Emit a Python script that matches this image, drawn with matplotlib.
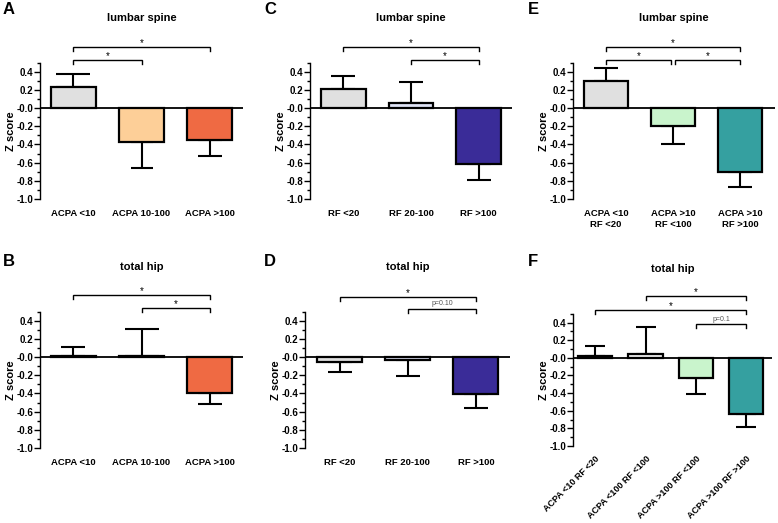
import numpy as np
import matplotlib
matplotlib.use("Agg")
from matplotlib import pyplot as plt
from matplotlib.ticker import MultipleLocator, FixedLocator, FixedFormatter

plt.rcParams['font.family'] = ['Liberation Sans', 'DejaVu Sans']
plt.rcParams['font.weight'] = 'bold'

W, H = 778, 523

# ---- data (Z score mean and one-sided error) ----
acpa_labels = ["ACPA <10", "ACPA 10-100", "ACPA >100"]
rf_labels = ["RF <20", "RF 20-100", "RF >100"]
combo_labels = ["ACPA <10\nRF <20", "ACPA >10\nRF <100", "ACPA >10\nRF >100"]
combo4_labels = ["ACPA <10 RF <20", "ACPA <100 RF <100",
                 "ACPA >100 RF <100", "ACPA >100 RF >100"]

lumbar_acpa = [0.23, -0.37, -0.35]
lumbar_acpa_err = [0.15, 0.29, 0.18]
hip_acpa = [0.01, 0.01, -0.39]
hip_acpa_err = [0.10, 0.30, 0.13]

lumbar_rf = [0.21, 0.06, -0.61]
lumbar_rf_err = [0.14, 0.23, 0.18]
hip_rf = [-0.055, -0.03, -0.41]
hip_rf_err = [0.11, 0.18, 0.15]

lumbar_combo = [0.30, -0.20, -0.70]
lumbar_combo_err = [0.14, 0.20, 0.17]
hip_combo = [0.015, 0.04, -0.23, -0.64]
hip_combo_err = [0.115, 0.31, 0.18, 0.15]

ytick_vals = [-1.0, -0.8, -0.6, -0.4, -0.2, 0.0, 0.2, 0.4]
ytick_text = ["-1.0", "-0.8", "-0.6", "-0.4", "-0.2", "-0.0", "0.2", "0.4"]

gray = '#e0e0e0'
orange = '#fdcf98'
red = '#ef6a43'
lblue = '#dfe3f6'
dblue = '#3a2c98'
lgreen = '#c9f4cc'
teal = '#35a0a0'


fig = plt.figure(figsize=(W / 100, H / 100), dpi=100)


def make_axes(left, top, right, bottom):
    return fig.add_axes([left / W, 1 - bottom / H, (right - left) / W, (bottom - top) / H])


def bracket(ax, x0, x1, y, text, small=False):
    d = 0.045
    ax.plot([x0, x0, x1, x1], [y - d, y, y, y - d], color='black', lw=1.0,
            clip_on=False, solid_joinstyle='miter')
    if small:
        ax.text((x0 + x1) / 2, y + 0.02, text, ha='center', va='bottom',
                fontsize=5, color='#555555', fontweight='normal')
    else:
        ax.text((x0 + x1) / 2, y - 0.01, text, ha='center', va='bottom',
                fontsize=7, fontweight='normal')


def panel(rect, xlim, labels, means, errs, colors, title, caps,
          rotate=False, width=0.66):
    ax = make_axes(*rect)
    x = np.arange(len(means))
    ax.bar(x, means, width=width, color=colors, edgecolor='black',
           linewidth=1.6, zorder=2)
    for xi, m, e, c in zip(x, means, errs, caps):
        lo = [0] if m >= 0 else [e]
        hi = [e] if m >= 0 else [0]
        ax.errorbar([xi], [m], yerr=[lo, hi], fmt='none', ecolor='black',
                    elinewidth=1.5, capsize=c, capthick=1.5, zorder=1)
    ax.axhline(0, color='black', lw=1.3, zorder=3)
    ax.set_xlim(*xlim)
    ax.set_ylim(-1.0, 0.5)
    for s in ['top', 'right', 'bottom']:
        ax.spines[s].set_visible(False)
    ax.spines['left'].set_linewidth(1.0)
    ax.yaxis.set_major_locator(FixedLocator(ytick_vals))
    ax.yaxis.set_major_formatter(FixedFormatter(ytick_text))
    ax.yaxis.set_minor_locator(MultipleLocator(0.1))
    ax.tick_params(axis='y', which='major', length=4, width=1.0, labelsize=7, pad=1)
    ax.tick_params(axis='y', which='minor', length=2.5, width=1.0)
    ax.set_xticks(x)
    if rotate:
        ax.set_xticklabels(labels, rotation=45, ha='right', rotation_mode='anchor',
                           fontsize=6.5, fontweight='bold')
        ax.tick_params(axis='x', length=0, pad=6)
    else:
        ax.set_xticklabels(labels, fontsize=6.8, fontweight='bold', linespacing=1.35)
        ax.tick_params(axis='x', length=0, pad=7)
    ax.set_ylabel('Z score', fontsize=8, fontweight='bold')
    ax.yaxis.set_label_coords(-24 / (rect[2] - rect[0]), 0.5)
    ax.text(0.5, 1 + 45 / (rect[3] - rect[1]), title, transform=ax.transAxes,
            ha='center', va='center', fontsize=8, fontweight='bold')
    return ax


def letter(x, y, s):
    fig.text(x / W, 1 - y / H, s, ha='left', va='center', fontsize=12, fontweight='bold')


# A
ax = panel((40, 62.6, 243, 199), (-0.49, 2.49), acpa_labels, lumbar_acpa, lumbar_acpa_err,
           [gray, orange, red], 'lumbar spine', [12, 8, 8.5])
bracket(ax, 0, 2, 0.67, '*')
bracket(ax, 0, 1, 0.53, '*')
letter(3, 10, 'A')

# C
ax = panel((310, 62.6, 512, 199), (-0.49, 2.49), rf_labels, lumbar_rf, lumbar_rf_err,
           [gray, lblue, dblue], 'lumbar spine', [8.5, 8.5, 8.5])
bracket(ax, 0, 2, 0.67, '*')
bracket(ax, 1, 2, 0.53, '*')
letter(264, 10, 'C')

# E
ax = panel((573, 62.6, 775, 199), (-0.49, 2.52), combo_labels, lumbar_combo, lumbar_combo_err,
           [gray, lgreen, teal], 'lumbar spine', [8.5, 8.5, 8.5])
bracket(ax, 0, 2, 0.67, '*')
bracket(ax, 0, 0.97, 0.53, '*')
bracket(ax, 1.03, 2, 0.53, '*')
letter(528, 10, 'E')

# B
ax = panel((40, 311.6, 243, 448), (-0.49, 2.49), acpa_labels, hip_acpa, hip_acpa_err,
           [gray, orange, red], 'total hip', [8.5, 12, 8.5])
bracket(ax, 0, 2, 0.68, '*')
bracket(ax, 1, 2, 0.54, '*')
letter(3, 262, 'B')

# D
ax = panel((305, 311.6, 510, 448), (-0.51, 2.5), rf_labels, hip_rf, hip_rf_err,
           [gray, lblue, dblue], 'total hip', [8.5, 8.5, 8.5])
bracket(ax, 0, 2, 0.66, '*')
bracket(ax, 1, 2, 0.53, 'p=0.10', small=True)
letter(264, 262, 'D')

# F
ax = panel((573, 313.7, 772, 446), (-0.44, 3.51), combo4_labels, hip_combo, hip_combo_err,
           [gray, '#f2f2f2', lgreen, teal], 'total hip', [7, 7, 7, 7],
           rotate=True, width=0.68)
bracket(ax, 1, 3, 0.70, '*')
bracket(ax, 0, 3, 0.54, '*')
bracket(ax, 2, 3, 0.38, 'p=0.1', small=True)
letter(528, 262, 'F')

fig.savefig('out.png', dpi=100)
